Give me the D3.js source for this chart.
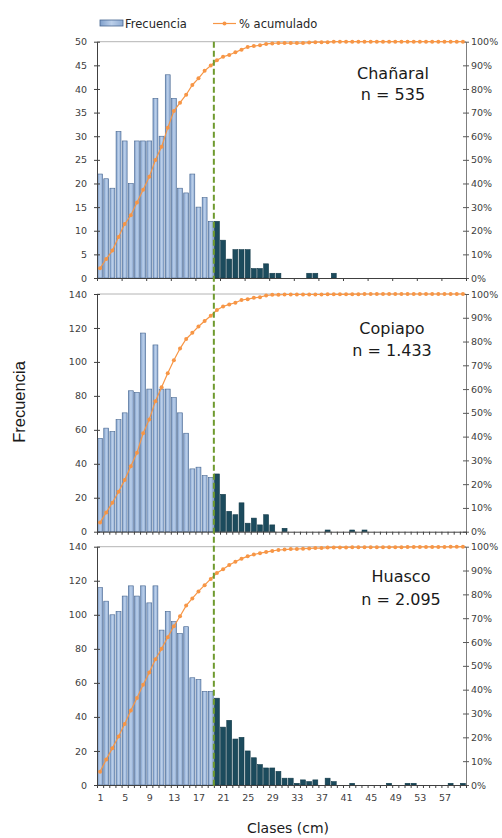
<!DOCTYPE html>
<html>
<head>
<meta charset="utf-8">
<script src="https://cdn.jsdelivr.net/npm/d3@7"></script>
<style>
  body { margin: 0; background: #fff; }
  svg { display: block; }
</style>
</head>
<body>
<div id="chart"></div>
<script>
// chart size
var w = 502;
var h = 838;

// size classes (cm), 1..60
var clases = d3.range(1, 61);
var corte = 19.5; // green dashed line, between class 19 and 20

// frecuencias por clase
var chanaral = [22, 21, 19, 31, 29, 20, 29, 29, 29, 38, 30, 43, 38, 19, 18, 22, 15, 17, 12, 12,
                8, 4, 6, 6, 6, 2, 2, 3, 1, 1, 0, 0, 0, 0, 1, 1, 0, 0, 1, 0,
                0, 0, 0, 0, 0, 0, 0, 0, 0, 0, 0, 0, 0, 0, 0, 0, 0, 0, 0, 0];
var copiapo = [55, 61, 59, 66, 70, 83, 82, 117, 84, 110, 84, 84, 79, 70, 58, 37, 38, 33, 32, 34,
               22, 12, 10, 17, 5, 8, 4, 10, 4, 0, 2, 0, 0, 0, 0, 0, 0, 1, 0, 0,
               0, 1, 0, 1, 0, 0, 0, 0, 0, 0, 0, 0, 0, 0, 0, 0, 0, 0, 0, 0];
var huasco = [116, 108, 100, 102, 111, 117, 111, 117, 107, 117, 91, 102, 96, 89, 93, 63, 62, 55, 55, 51,
              34, 38, 27, 28, 20, 16, 12, 10, 10, 8, 4, 4, 1, 3, 2, 3, 0, 4, 2, 0,
              0, 1, 0, 0, 0, 0, 0, 1, 0, 0, 1, 1, 0, 0, 0, 0, 0, 1, 0, 1];

var nombres = ["Chañaral", "Copiapo", "Huasco"];
var totales = ["n = 535", "n = 1.433", "n = 2.095"];
var yMax = [50, 140, 140];
var yTicks = [d3.range(0, 51, 5), d3.range(0, 141, 20), d3.range(0, 141, 20)];
var pctTicks = d3.range(0, 101, 10);
var xLabels = d3.range(1, 58, 4);

var series = [chanaral, copiapo, huasco];

// layout
var left = 97, right = 466;
var panels = [
  { top: 41.7, bottom: 278, lab: [37, 58], labX: 393 },
  { top: 294, bottom: 531.7, lab: [40, 62], labX: 392 },
  { top: 546.7, bottom: 785, lab: [35, 58], labX: 401 }
];

var svg = d3.select("#chart").append("svg")
  .attr("width", w)
  .attr("height", h);

// bar gradient
var defs = svg.append("defs");
var grad = defs.append("linearGradient").attr("id", "barGrad")
  .attr("x1", "0%").attr("x2", "100%").attr("y1", "0%").attr("y2", "0%");
grad.append("stop").attr("offset", "0%").attr("stop-color", "#7f9fcb");
grad.append("stop").attr("offset", "50%").attr("stop-color", "#bcd0ea");
grad.append("stop").attr("offset", "100%").attr("stop-color", "#8eabd3");

var xScale = d3.scaleLinear()
  .domain([0.5, 60.5])
  .range([left, right]);
var step = xScale(2) - xScale(1);
var barW = step * 0.8;

var tickFont = "DejaVu Sans, Verdana, sans-serif";

series.forEach(function (data, i) {
  var p = panels[i];
  var g = svg.append("g");

  var yScale = d3.scaleLinear()
    .domain([0, yMax[i]])
    .range([p.bottom, p.top]);
  var pScale = d3.scaleLinear()
    .domain([0, 100])
    .range([p.bottom, p.top]);

  var rows = clases.map(function (c, k) { return { c: c, v: data[k] }; });
  var total = d3.sum(data);
  var acum = Array.from(d3.cumsum(data)).map(function (s) { return s / total * 100; });

  // top gridline
  g.append("line")
    .attr("x1", left).attr("x2", right)
    .attr("y1", p.top).attr("y2", p.top)
    .attr("stroke", "#b4b4b4").attr("stroke-width", 1);

  // bars
  g.selectAll("rect.bar")
    .data(rows.filter(function (d) { return d.v > 0; }))
    .enter()
    .append("rect")
    .attr("class", "bar")
    .attr("x", function (d) { return xScale(d.c) - barW / 2; })
    .attr("width", barW)
    .attr("y", function (d) { return yScale(d.v); })
    .attr("height", function (d) { return yScale(0) - yScale(d.v); })
    .attr("fill", function (d) { return d.c < corte ? "url(#barGrad)" : "#1c4b5d"; })
    .attr("stroke", function (d) { return d.c < corte ? "#46658f" : "#133a49"; })
    .attr("stroke-width", 0.6);

  // left axis
  g.append("g")
    .attr("transform", "translate(" + left + ",0)")
    .call(d3.axisLeft(yScale).tickValues(yTicks[i]).tickSize(3).tickSizeOuter(0))
    .call(function (a) {
      a.select(".domain").attr("stroke", "#404040");
      a.selectAll(".tick line").attr("stroke", "#404040").attr("x2", 3).attr("x1", -3);
      a.selectAll("text").attr("x", -10).attr("fill", "#404040")
        .style("font-family", tickFont).style("font-size", "9.5px");
    });

  // right axis (%)
  g.append("g")
    .attr("transform", "translate(" + right + ",0)")
    .call(d3.axisRight(pScale).tickValues(pctTicks).tickSize(3).tickSizeOuter(0)
      .tickFormat(function (d) { return d + "%"; }))
    .call(function (a) {
      a.select(".domain").attr("stroke", "#7f7f7f");
      a.selectAll(".tick line").attr("stroke", "#595959").attr("x1", -3).attr("x2", 3);
      a.selectAll("text").attr("x", 5).attr("fill", "#404040")
        .style("font-family", tickFont).style("font-size", "9.5px");
    });

  // bottom axis
  var bounds = i === 0 ? d3.range(0.5, 61, 4) : d3.range(0.5, 61, 1);
  g.append("g")
    .attr("transform", "translate(0," + p.bottom + ")")
    .call(d3.axisBottom(xScale).tickValues(bounds).tickSize(3).tickSizeOuter(0).tickFormat(""))
    .call(function (a) {
      a.select(".domain").attr("stroke", "#404040");
      a.selectAll(".tick line").attr("stroke", "#404040");
    });

  if (i === 2) {
    g.append("g")
      .attr("transform", "translate(0," + p.bottom + ")")
      .call(d3.axisBottom(xScale).tickValues(xLabels).tickSize(0))
      .call(function (a) {
        a.select(".domain").remove();
        a.selectAll("text").attr("y", 9).attr("fill", "#404040")
          .style("font-family", tickFont).style("font-size", "9.5px");
      });
  }

  // cumulative line
  var line = d3.line()
    .x(function (d, k) { return xScale(clases[k]); })
    .y(function (d) { return pScale(d); });

  g.append("path")
    .datum(acum)
    .attr("d", line)
    .attr("fill", "none")
    .attr("stroke", "#f79646")
    .attr("stroke-width", 1.2);

  g.selectAll("circle.pt")
    .data(acum)
    .enter()
    .append("circle")
    .attr("class", "pt")
    .attr("cx", function (d, k) { return xScale(clases[k]); })
    .attr("cy", function (d) { return pScale(d); })
    .attr("r", 2)
    .attr("fill", "#f79646");

  // panel labels
  g.append("text")
    .attr("x", p.labX).attr("y", p.top + p.lab[0])
    .attr("text-anchor", "middle")
    .attr("fill", "#1a1a1a")
    .style("font-family", tickFont).style("font-size", "16px")
    .text(nombres[i]);
  g.append("text")
    .attr("x", p.labX).attr("y", p.top + p.lab[1])
    .attr("text-anchor", "middle")
    .attr("fill", "#1a1a1a")
    .style("font-family", tickFont).style("font-size", "16px")
    .text(totales[i]);
});

// green dashed cut line across all panels
svg.append("line")
  .attr("x1", xScale(corte)).attr("x2", xScale(corte))
  .attr("y1", panels[0].top).attr("y2", panels[2].bottom + 2)
  .attr("stroke", "#6f9a2e")
  .attr("stroke-width", 2)
  .attr("stroke-dasharray", "6,3");

// legend
var leg = svg.append("g");
leg.append("rect")
  .attr("x", 100).attr("y", 20).attr("width", 23).attr("height", 6)
  .attr("fill", "url(#barGrad)").attr("stroke", "#46658f").attr("stroke-width", 0.8);
leg.append("text")
  .attr("x", 125).attr("y", 28)
  .attr("fill", "#262626")
  .style("font-family", tickFont).style("font-size", "11.5px")
  .text("Frecuencia");
leg.append("line")
  .attr("x1", 213).attr("x2", 236).attr("y1", 23.5).attr("y2", 23.5)
  .attr("stroke", "#f79646").attr("stroke-width", 1.2);
leg.append("circle")
  .attr("cx", 224.5).attr("cy", 23.5).attr("r", 2)
  .attr("fill", "#f79646");
leg.append("text")
  .attr("x", 239).attr("y", 28)
  .attr("fill", "#262626")
  .style("font-family", tickFont).style("font-size", "11.5px")
  .text("% acumulado");

// axis titles
svg.append("text")
  .attr("transform", "translate(25,402) rotate(-90)")
  .attr("text-anchor", "middle")
  .attr("fill", "#1a1a1a")
  .style("font-family", "Liberation Sans, Arial, sans-serif")
  .style("font-size", "16.5px")
  .text("Frecuencia");

svg.append("text")
  .attr("x", 288).attr("y", 833)
  .attr("text-anchor", "middle")
  .attr("fill", "#1a1a1a")
  .style("font-family", tickFont)
  .style("font-size", "14px")
  .text("Clases (cm)");
</script>
</body>
</html>
